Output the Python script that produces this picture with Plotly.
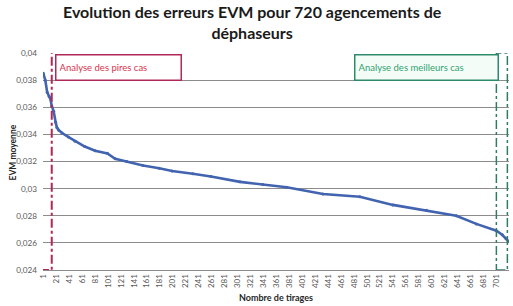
import plotly.graph_objects as go

tirages = [1, 4, 7, 10, 12, 14, 17, 20, 22, 25, 30, 40, 50, 65, 81, 100, 112, 130, 155,
           180, 200, 232, 260, 305, 340, 377, 433, 490, 541, 593, 639, 670, 701, 710, 716, 720]
evm = [0.0385, 0.0380, 0.0371, 0.0368, 0.0366, 0.0361, 0.0357, 0.0349, 0.0345, 0.0343,
       0.0341, 0.0338, 0.0335, 0.0331, 0.0328, 0.0326, 0.0322, 0.0320, 0.0317, 0.0315,
       0.0313, 0.0311, 0.0309, 0.0305, 0.0303, 0.0301, 0.0296, 0.0294, 0.0288, 0.0284,
       0.0280, 0.0274, 0.0269, 0.0266, 0.0263, 0.0261]

x_ticks = list(range(1, 702, 20))
y_ticks = [0.024, 0.026, 0.028, 0.03, 0.032, 0.034, 0.036, 0.038, 0.04]
y_labels = ["0,024", "0,026", "0,028", "0,03", "0,032", "0,034", "0,036", "0,038", "0,04"]

title = "Evolution des erreurs EVM pour 720 agencements de<br>déphaseurs"
worst_label = "Analyse des pires cas"
best_label = "Analyse des meilleurs cas"

fig = go.Figure()
fig.add_trace(go.Scatter(x=tirages, y=evm, mode="lines+markers",
                         line=dict(color="#4264B0", width=2.6),
                         marker=dict(size=3, color="#4264B0"),
                         showlegend=False))

font = "Lato, 'Open Sans', sans-serif"
fig.update_layout(
    width=513, height=306,
    margin=dict(l=43, r=4, t=53, b=36),
    paper_bgcolor="white", plot_bgcolor="white",
    font=dict(family=font, color="#595959", size=8),
    xaxis=dict(range=[0.5, 720.5], tickvals=x_ticks, ticktext=[str(v) for v in x_ticks],
               tickangle=-90, showgrid=False, zeroline=False, showline=True,
               linecolor="#8c8c8c", linewidth=1, ticks="", tickfont=dict(size=8, color="#595959")),
    yaxis=dict(range=[0.024, 0.04], tickvals=y_ticks, ticktext=y_labels,
               showgrid=True, gridcolor="#8c8c8c", gridwidth=1, zeroline=False,
               showline=False, ticks="", ticklabelstandoff=5,
               tickfont=dict(size=8.2, color="#595959")),
    shapes=[
        dict(type="rect", xref="x", yref="y", x0=-4, x1=14, y0=0.024, y1=0.0402,
             line=dict(color="#B0285A", width=2, dash="dashdot")),
        dict(type="rect", xref="x", yref="y", x0=701, x1=718, y0=0.024, y1=0.04,
             line=dict(color="#2E7D62", width=1.5, dash="dashdot")),
    ],
    annotations=[
        dict(text="<b>" + title + "</b>", xref="paper", yref="paper", x=0.5, y=1,
             xanchor="center", yanchor="bottom", yshift=9, xshift=-24, showarrow=False,
             font=dict(size=16, color="#1a1a1a", family=font)),
        dict(text="<b>EVM moyenne</b>", xref="paper", yref="paper", x=0, y=0.5,
             xshift=-38, yshift=9, textangle=-90, showarrow=False,
             font=dict(size=8.5, color="#262626", family=font)),
        dict(text="<b>Nombre de tirages</b>", xref="paper", yref="paper", x=0.5, y=0,
             yshift=-27, yanchor="middle", showarrow=False,
             font=dict(size=9, color="#262626", family=font)),
        dict(text=worst_label, xref="paper", yref="paper", x=0.026, y=0.995,
             xanchor="left", yanchor="top", showarrow=False, width=118, height=18, align="left",
             bordercolor="#B0285A", borderwidth=1.5, bgcolor="white", borderpad=3,
             font=dict(size=9.5, color="#D8344E", family=font)),
        dict(text=best_label, xref="paper", yref="paper", x=0.978, y=0.995,
             xanchor="right", yanchor="top", showarrow=False, width=136, height=18, align="left",
             bordercolor="#2E8B6A", borderwidth=1.5, bgcolor="#F4FCF8", borderpad=3,
             font=dict(size=9.5, color="#2FA36E", family=font)),
    ],
)

fig.write_html("out.html")
